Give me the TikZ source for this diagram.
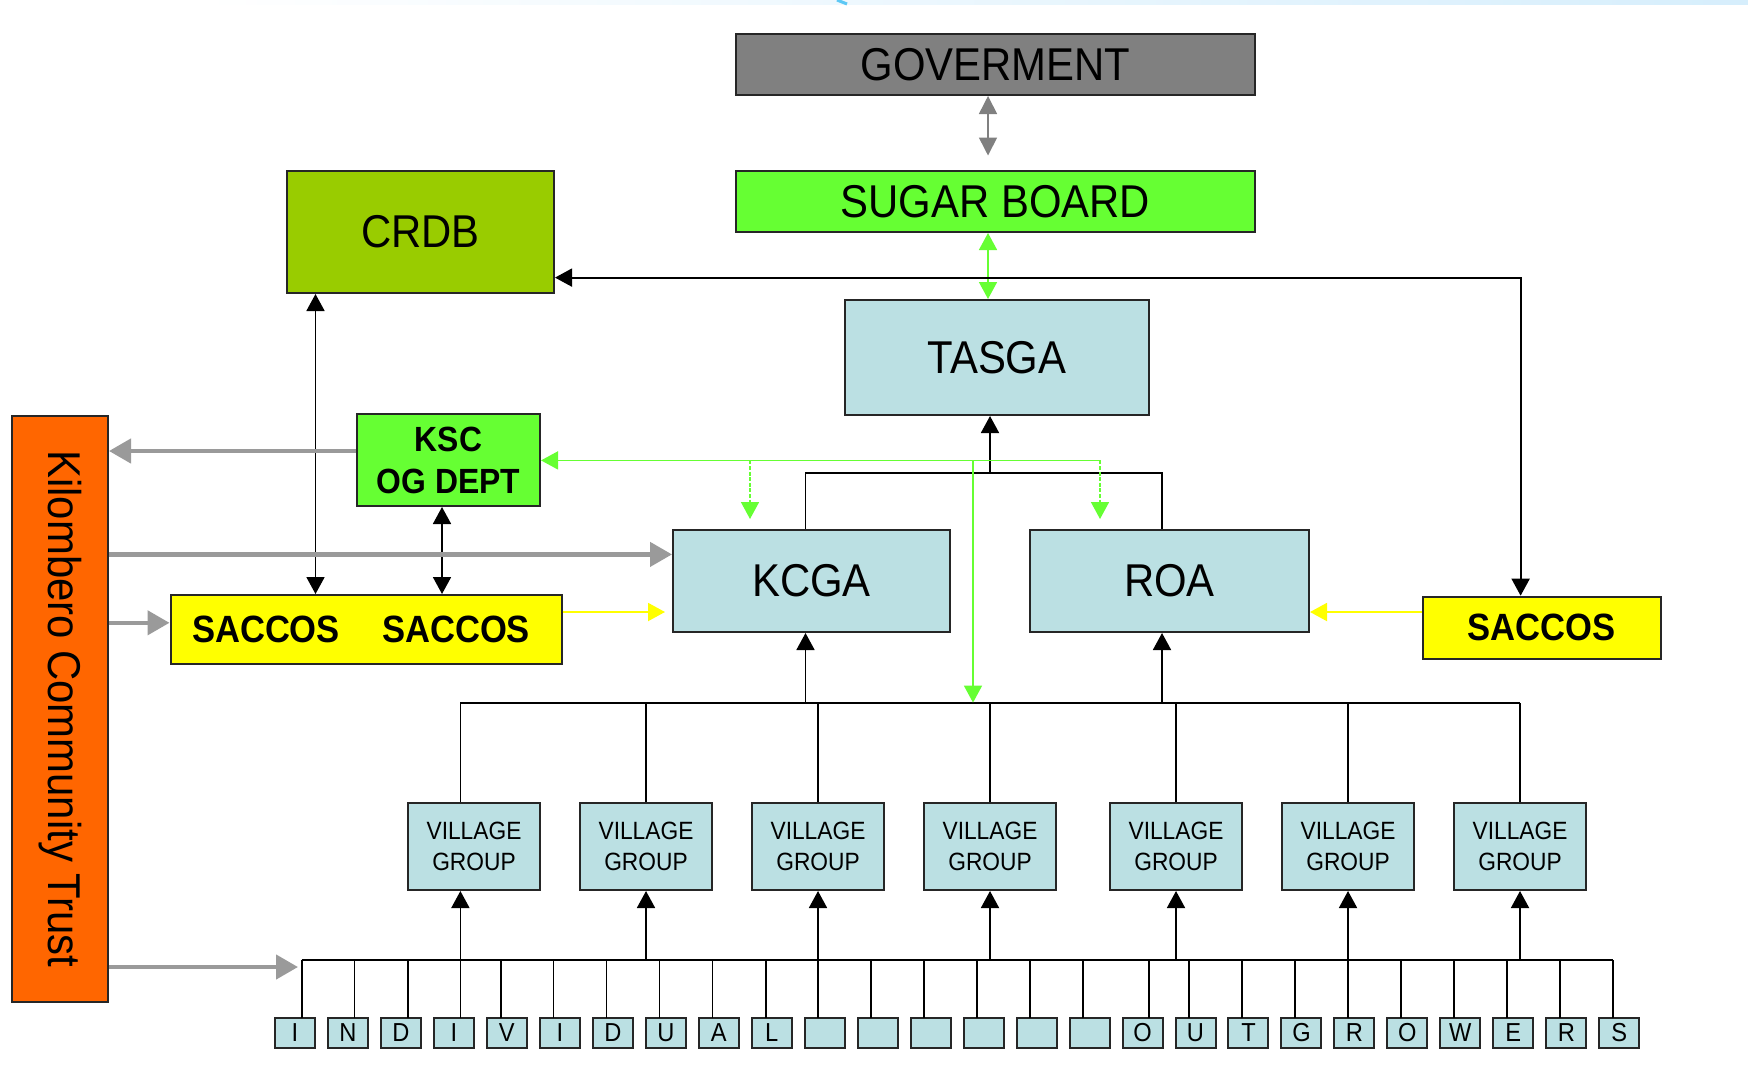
\documentclass[tikz,border=0pt]{standalone}
\usepackage{fontspec}
\setmainfont{Liberation Sans}[FakeStretch=0.91]
\usetikzlibrary{arrows.meta}
\definecolor{govgray}{HTML}{808080}
\definecolor{bgreen}{HTML}{66FF33}
\definecolor{olivegr}{HTML}{99CC00}
\definecolor{lblue}{HTML}{BBE0E3}
\definecolor{korange}{HTML}{FF6600}
\definecolor{kyellow}{HTML}{FFFF00}
\definecolor{agray}{HTML}{9A9A9A}
\definecolor{bandblue}{HTML}{D6EEFC}
\definecolor{strokeblue}{HTML}{5CC8F5}
\begin{document}
\begin{tikzpicture}[x=0.5pt,y=-0.5pt,
  box/.style={draw=black!85, line width=1pt, inner sep=0pt, align=center},
  bigtxt/.style={font=\fontsize{23pt}{27pt}\selectfont},
  sactxt/.style={font=\fontsize{19pt}{22pt}\selectfont\bfseries, inner sep=0pt},
  vgtxt/.style={font=\fontsize{12.5pt}{15.25pt}\selectfont},
  lettxt/.style={font=\fontsize{13pt}{15pt}\selectfont},
  conn/.style={draw=black, line width=0.9pt},
  bus/.style={draw=black, line width=1.1pt},
  tipb/.style={-{Triangle[length=8.5pt,width=9pt]}},
  dtip/.style={{Triangle[length=8.5pt,width=9pt]}-{Triangle[length=8.5pt,width=9pt]}},
  gline/.style={draw=bgreen, line width=0.8pt},
  gdash/.style={dash pattern=on 2pt off 0.8pt},
  grayarrow/.style={draw=agray, line width=2.2pt, -{Triangle[length=11pt,width=12pt]}},
  yline/.style={draw=kyellow, line width=1pt}
]
\useasboundingbox (0,0) rectangle (1748,1088);
\fill[white] (0,0) rectangle (1748,1088);
\shade[left color=white, right color=bandblue] (200,0) rectangle (1748,4);
\draw[strokeblue, line width=1.5pt] (837,0) -- (847,4);

% main boxes
\node[box, fill=govgray, minimum width=259.5pt, minimum height=30.5pt, bigtxt] (gov) at (995.5,64.5) {GOVERMENT};
\node[box, fill=bgreen, minimum width=259.5pt, minimum height=30.5pt, bigtxt] (sb) at (995.5,201.5) {SUGAR BOARD};
\node[box, fill=olivegr, minimum width=133.5pt, minimum height=61pt, bigtxt] (crdb) at (420.5,232) {CRDB};
\node[box, fill=lblue, minimum width=152pt, minimum height=57.5pt, bigtxt] (tasga) at (997,357.5) {TASGA};
\node[box, fill=bgreen, minimum width=91.5pt, minimum height=46pt, font={\fontsize{17.5pt}{21pt}\selectfont\bfseries}] (ksc) at (448.5,460) {KSC\\OG DEPT};
\node[box, fill=korange, minimum width=48pt, minimum height=293pt] (kct) at (60,709) {};
\node[rotate=-90, bigtxt, inner sep=0pt] (kcttext) at (kct.center) {Kilombero Community Trust};
\node[box, fill=lblue, minimum width=138.5pt, minimum height=51pt, bigtxt] (kcga) at (811.5,581) {KCGA};
\node[box, fill=lblue, minimum width=139.5pt, minimum height=51pt, bigtxt] (roa) at (1169.5,581) {ROA};
\node[box, fill=kyellow, minimum width=195.5pt, minimum height=34.5pt] (sacL) at (366,629.5) {};
\node[sactxt] (sacLa) at (266,629) {SACCOS};
\node[sactxt] (sacLb) at (456,629) {SACCOS};
\node[box, fill=kyellow, minimum width=119pt, minimum height=31pt, sactxt] (sacR) at (1541.5,627.7) {SACCOS};

% village groups
\foreach \x [count=\i] in {474,646,818,990,1176,1348,1520}
  \node[box, fill=lblue, minimum width=66pt, minimum height=43.5pt, vgtxt] (vg\i) at (\x,846.5) {VILLAGE\\GROUP};

% buses
\coordinate (busL) at (301.6,960);
\coordinate (busR) at (1612.6,960);
\coordinate (ubL) at (460.4,702.6);
\coordinate (ubR) at (1519.5,702.6);
\draw[bus] (busL) -- (busR);
\draw[bus] (ubL) -- (ubR);

% letter boxes
\foreach \c/\lx [count=\i] in {I/301.6,N/354.5,D/408,I/460.4,V/500.6,I/553.5,D/606.5,U/659.4,A/712.4,L/766,{}/817.7,{}/871,{}/924.2,{}/977.1,{}/1030,{}/1083,O/1148.8,U/1189,T/1242,G/1295,R/1347.8,O/1400.8,W/1453.7,E/1506.7,R/1559.6,S/1612.6}{
  \node[box, fill=lblue, minimum width=20pt, minimum height=15pt, lettxt] (L\i) at ({295+52.97*(\i-1)},1033) {\c};
  \coordinate (lt\i) at (\lx,1018);
  \draw[conn] (lt\i) -- (lt\i |- busL);
}

% village group links
\draw[conn] (ubL) -- (ubL |- vg1.north);
\draw[conn, tipb] (ubL |- busL) -- (ubL |- vg1.south);
\foreach \i in {2,...,7}{
  \draw[conn] (vg\i.north) -- (vg\i.north |- ubL);
  \draw[conn, tipb] (vg\i.south |- busL) -- (vg\i.south);
}

% KCGA / ROA links
\coordinate (kx) at (805.5,0);
\coordinate (rx) at (1162,0);
\coordinate (tj) at (990,473);
\draw[conn, tipb] (kx |- ubL) -- (kx |- kcga.south);
\draw[conn, tipb] (rx |- ubL) -- (rx |- roa.south);
\draw[conn] (kx |- kcga.north) -- (kx |- tj) -- (rx |- tj) -- (rx |- roa.north);
\draw[conn, tipb] (tj) -- (tj |- tasga.south);

% top arrows
\coordinate (ax) at (988,0);
\coordinate (gsb) at (988,155.5);
\draw[draw=govgray, line width=0.8pt, {Triangle[length=9pt,width=9pt]}-{Triangle[length=9pt,width=9pt]}] (ax |- gov.south) -- (gsb);
\draw[gline, {Triangle[length=8.5pt,width=9pt]}-{Triangle[length=8.5pt,width=9pt]}, bgreen] (ax |- sb.south) -- (ax |- tasga.north);

% CRDB - right SACCOS
\coordinate (c1) at (1520.6,277.6);
\draw[conn, dtip] (c1 -| crdb.east) -- (c1) -- (c1 |- sacR.north);

% CRDB / KSC to SACCOS
\coordinate (x1) at (315.5,0);
\coordinate (x2) at (442,0);
\draw[conn, dtip] (x1 |- crdb.south) -- (x1 |- sacL.north);
\draw[conn, dtip] (x2 |- ksc.south) -- (x2 |- sacL.north);

% green links
\coordinate (gR) at (1100,460.4);
\coordinate (gK) at (750,460.4);
\coordinate (gV) at (973,460.4);
\draw[gline, tipb, bgreen] (gR) -- (gR -| ksc.east);
\draw[gline, gdash, tipb, bgreen, shorten >=5pt] (gK) -- (gK |- kcga.north);
\draw[gline, gdash, tipb, bgreen, shorten >=5pt] (gR) -- (gR |- roa.north);
\draw[gline, tipb, bgreen] (gV) -- (gV |- ubL);

% yellow links
\coordinate (y1) at (665,612);
\draw[yline, tipb, kyellow] (sacL.east |- y1) -- (y1);
\draw[yline, tipb, kyellow] (sacR.west |- y1) -- (roa.east |- y1);

% gray arrows from the trust
\coordinate (g1) at (0,451);
\coordinate (g2) at (0,554.4);
\coordinate (g3) at (0,622.8);
\coordinate (g4) at (298,967);
\draw[grayarrow] (ksc.west |- g1) -- (kct.east |- g1);
\draw[grayarrow] (kct.east |- g2) -- (kcga.west |- g2);
\draw[grayarrow] (kct.east |- g3) -- (sacL.west |- g3);
\draw[grayarrow] (kct.east |- g4) -- (g4);
\end{tikzpicture}
\end{document}
